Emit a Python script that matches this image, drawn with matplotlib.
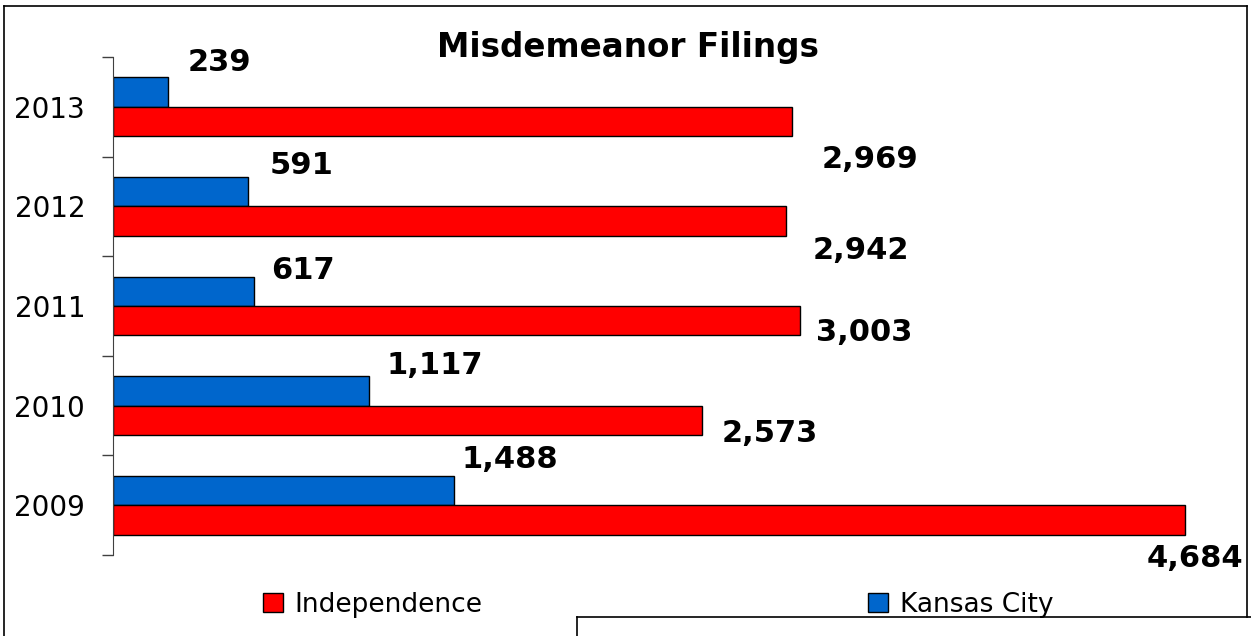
import matplotlib
matplotlib.use("Agg")
import matplotlib.pyplot as plt
from matplotlib.patches import Patch
from matplotlib.lines import Line2D
import numpy as np

# data (bottom to top)
years = ["2009", "2010", "2011", "2012", "2013"]
independence = [4684, 2573, 3003, 2942, 2969]
kansas_city = [1488, 1117, 617, 591, 239]

red = "#FF0000"
blue = "#0066CC"

# label offsets in pixels (dx, dy), roughly where the original put them
kc_offsets = [(8, 31), (18, 25), (17, 21), (21, 26), (20, 30)]
ind_offsets = [(-38, -39), (20, -13), (16, -12), (26, -29), (29, -38)]

W, H = 1251, 636
fig = plt.figure(figsize=(W / 100, H / 100), dpi=100)
ax = fig.add_axes([113 / W, (H - 555) / H, (1240 - 113) / W, 498 / H])

y = np.arange(len(years))
h = 0.295
ax.barh(y + h / 2, kansas_city, height=h, color=blue, edgecolor="black", linewidth=1)
ax.barh(y - h / 2, independence, height=h, color=red, edgecolor="black", linewidth=1)

for i in range(len(years)):
    ax.annotate(f"{kansas_city[i]:,}", (kansas_city[i], y[i] + h / 2),
                xytext=kc_offsets[i], textcoords="offset pixels",
                ha="left", va="center", fontsize=22, fontweight="bold")
    ax.annotate(f"{independence[i]:,}", (independence[i], y[i] - h / 2),
                xytext=ind_offsets[i], textcoords="offset pixels",
                ha="left", va="center", fontsize=22, fontweight="bold",
                annotation_clip=False)

ax.set_xlim(0, (1240 - 113) / ((1185 - 113) / 4684))
ax.set_ylim(-0.5, len(years) - 0.5)

ax.set_xticks([])
ax.set_yticks(np.arange(-0.5, len(years)), labels=[""] * (len(years) + 1))
ax.set_yticks(y, labels=years, minor=True)
ax.tick_params(axis="y", which="major", length=8, color="#404040", width=1)
ax.tick_params(axis="y", which="minor", length=0, pad=20, labelsize=20)

for s in ["top", "right", "bottom"]:
    ax.spines[s].set_visible(False)
ax.spines["left"].set_color("#404040")

fig.text(628 / W, 1 - 47 / H, "Misdemeanor Filings", ha="center", va="center",
         fontsize=23.5, fontweight="bold")

handles = [Patch(facecolor=red, edgecolor="black"), Patch(facecolor=blue, edgecolor="black")]
fig.legend(handles, ["Independence", "Kansas City"], ncol=2, loc="center left",
           bbox_to_anchor=(263 / W, (H - 605) / H), frameon=False, fontsize=19,
           handlelength=0.75, handleheight=0.75, handletextpad=0.45,
           columnspacing=14.6, borderpad=0, borderaxespad=0)

# outer frame and the box at bottom right
lk = dict(color="black", linewidth=1.2, transform=fig.transFigure)
top = 1 - 6 / H
fig.add_artist(Line2D([4 / W, 4 / W], [0, top], **lk))
fig.add_artist(Line2D([4 / W, 1247 / W], [top, top], **lk))
fig.add_artist(Line2D([1247 / W, 1247 / W], [top, (H - 617) / H], **lk))
fig.add_artist(Line2D([577 / W, 1], [(H - 617) / H, (H - 617) / H], **lk))
fig.add_artist(Line2D([577 / W, 577 / W], [(H - 617) / H, 0], **lk))

fig.savefig("out.png", dpi=100)
